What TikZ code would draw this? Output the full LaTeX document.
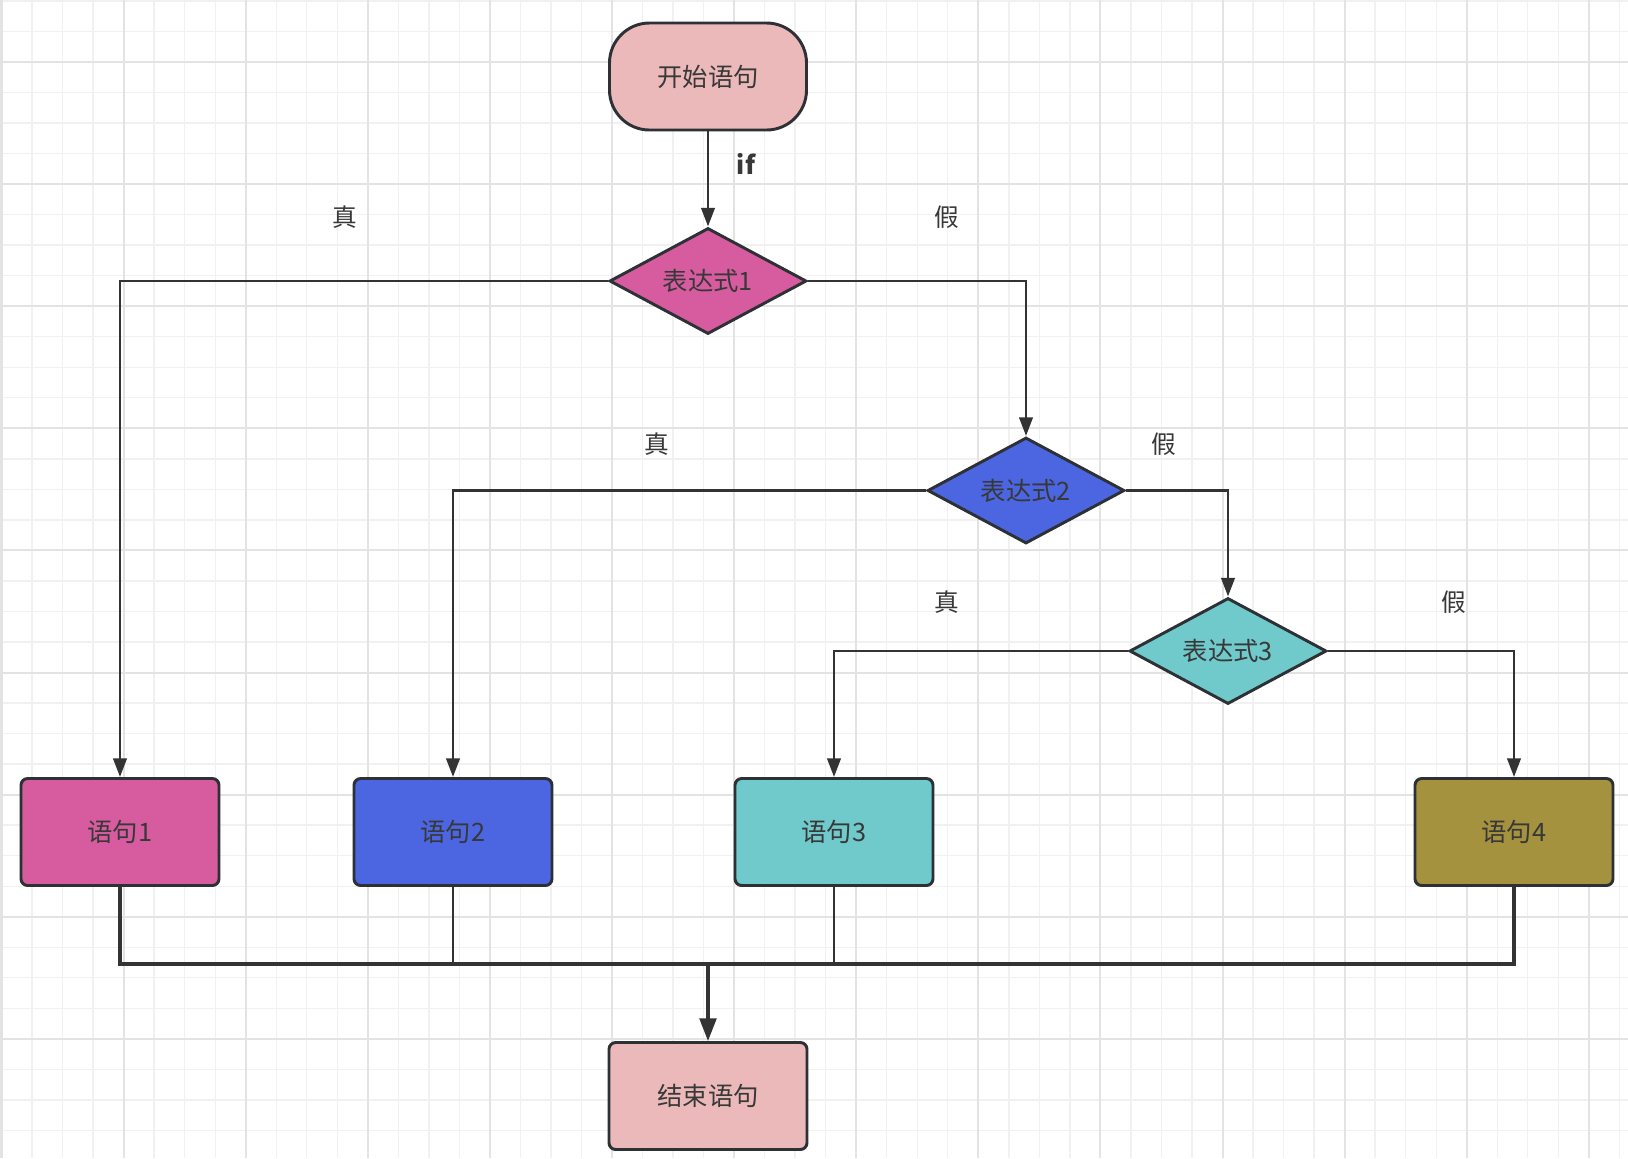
\documentclass[tikz,border=0pt]{standalone}
\usepackage{fontspec}
\setmainfont{Noto Sans CJK SC}
\usetikzlibrary{shapes.geometric,arrows.meta}
\definecolor{lineC}{HTML}{333333}
\definecolor{borderC}{HTML}{2D3034}
\definecolor{textC}{HTML}{383838}
\definecolor{pinkC}{HTML}{EBB9B9}
\definecolor{magC}{HTML}{D65C9F}
\definecolor{blueC}{HTML}{4B66E0}
\definecolor{cyanC}{HTML}{70C9CA}
\definecolor{oliveC}{HTML}{A4923F}
\definecolor{gridMinor}{HTML}{F1F1F1}
\definecolor{gridMajor}{HTML}{E3E3E3}
\begin{document}
\begin{tikzpicture}[x=0.75pt,y=-0.75pt,
  conn/.style={draw=lineC, line width=2.2pt},
  arr/.style={conn, -{Triangle[length=14pt,width=10pt]}},
  bigarr/.style={conn, line width=2.5pt, -{Triangle[length=17pt,width=12.5pt]}},
  base/.style={draw=borderC, line width=2.2pt, text=textC, font=\fontsize{19}{22}\selectfont, inner sep=0pt},
  stmt/.style={base, rectangle, rounded corners=5pt, minimum width=148.5pt, minimum height=80.25pt},
  startbox/.style={base, rectangle, rounded corners=30pt, minimum width=147.75pt, minimum height=80.25pt},
  cond/.style={base, diamond, shape aspect=2, minimum width=147.75pt, minimum height=79.5pt},
  lbl/.style={text=textC, font=\fontsize{18.5}{22}\selectfont, inner sep=0pt}
]
\useasboundingbox (0,0) rectangle (1628,1158);
\fill[white] (0,0) rectangle (1628,1158);
% grid
\foreach \k in {0,...,53} {
  \draw[gridMinor, line width=1pt] ({1.5+30.525*\k},0) -- ({1.5+30.525*\k},1158);
}
\foreach \k in {0,...,37} {
  \draw[gridMinor, line width=1pt] (0,{0.95+30.525*\k}) -- (1628,{0.95+30.525*\k});
}
\foreach \k in {0,...,13} {
  \draw[gridMajor, line width=1.5pt] ({1.5+122.1*\k},0) -- ({1.5+122.1*\k},1158);
}
\foreach \k in {0,...,9} {
  \draw[gridMajor, line width=1.5pt] (0,{62+122.1*\k}) -- (1628,{62+122.1*\k});
}
% nodes
\node[startbox, fill=pinkC] (start) at (708,76.5) {开始语句};
\node[cond, fill=magC] (d1) at (708,281) {表达式1};
\node[cond, fill=blueC] (d2) at (1026,490.5) {表达式2};
\node[cond, fill=cyanC] (d3) at (1228,651) {表达式3};
\node[stmt, fill=magC] (b1) at (120,832) {语句1};
\node[stmt, fill=blueC] (b2) at (453,832) {语句2};
\node[stmt, fill=cyanC] (b3) at (834,832) {语句3};
\node[stmt, fill=oliveC] (b4) at (1514,832) {语句4};
\node[stmt, fill=pinkC] (end) at (708,1096) {结束语句};
% labels
\node[lbl, font=\fontsize{19}{22}\selectfont\bfseries] (lif) at (746,164) {if};
\node[lbl] (t1) at (344.5,217) {真};
\node[lbl] (f1) at (946.5,217) {假};
\node[lbl] (t2) at (657,444) {真};
\node[lbl] (f2) at (1164,444) {假};
\node[lbl] (t3) at (946.5,602) {真};
\node[lbl] (f3) at (1454,602) {假};
% connectors
\draw[arr] (start.south) -- (d1.north);
\draw[arr] (d1.west) -| (b1.north);
\draw[arr] (d1.east) -| (d2.north);
\draw[arr] (d2.west) -| (b2.north);
\draw[arr] (d2.east) -| (d3.north);
\draw[arr] (d3.west) -| (b3.north);
\draw[arr] (d3.east) -| (b4.north);
\coordinate (bus) at (708,964);
\draw[conn, line width=2.4pt] (b1.south) |- (bus);
\draw[conn, line width=2.4pt] (b4.south) |- (bus);
\draw[conn] (b2.south) -- (b2.south |- bus);
\draw[conn] (b3.south) -- (b3.south |- bus);
\draw[bigarr] (bus) -- (end.north);
\end{tikzpicture}
\end{document}
